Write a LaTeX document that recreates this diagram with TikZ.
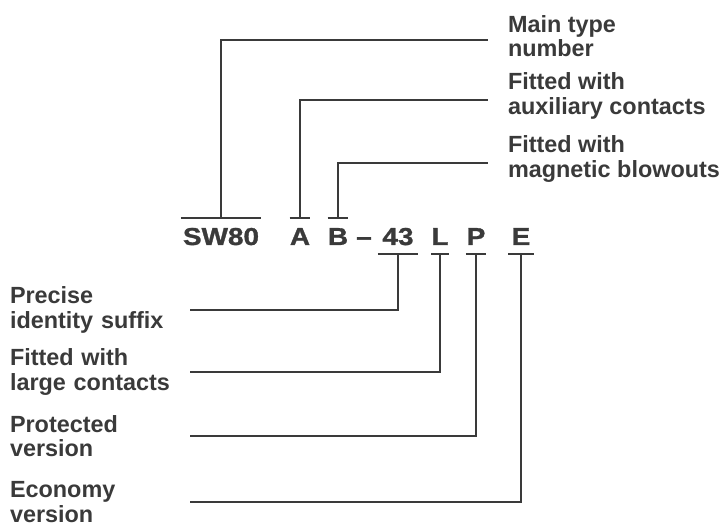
\documentclass[tikz,border=0pt]{standalone}
\usepackage{fontspec}
\setmainfont{Liberation Sans}
\newfontfamily\codefont[Ligatures=TeX, FakeStretch=1.14, BoldFeatures={FakeBold=1.2}]{Liberation Sans}
\definecolor{inkgray}{HTML}{3A3A3A}
\begin{document}
\begin{tikzpicture}[x=1pt, y=-1pt,
    code/.style={font=\codefont\fontsize{24.5}{25}\selectfont\bfseries, text=inkgray, inner sep=0pt, minimum height=36pt, text height=18pt, text depth=0pt},
    rlabel/.style={anchor=west, align=left, inner sep=0pt, outer xsep=20pt, font=\fontsize{23.4}{24.5}\selectfont\bfseries, text=inkgray},
    llabel/.style={anchor=west, align=left, text width=170pt, inner sep=0pt, outer xsep=10pt, font=\fontsize{23.4}{24.5}\selectfont\bfseries, text=inkgray},
    lead/.style={draw=inkgray, line width=1.8pt}]
    \useasboundingbox[fill=white] (0, 0) rectangle (725, 526);

    % Code de type
    \node[code, minimum width=80pt] (code_sw) at (221, 236) {SW80};
    \node[code, minimum width=20pt] (code_a) at (300, 236) {A};
    \node[code, minimum width=20pt] (code_b) at (338, 236) {B};
    \node[code] (code_dash) at (364, 236) {--};
    \node[code, minimum width=40pt] (code_num) at (398, 236) {43};
    \node[code, minimum width=16pt] (code_l) at (440, 236) {L};
    \node[code, minimum width=20pt] (code_p) at (476, 236) {P};
    \node[code, minimum width=25pt] (code_e) at (521, 236) {E};

    % Libellés à droite
    \node[rlabel] (lbl_main) at (488, 36) {Main type\\number};
    \node[rlabel] (lbl_aux) at (488, 96) {Fitted with\\auxiliary contacts};
    \node[rlabel] (lbl_blow) at (488, 159) {Fitted with\\magnetic blowouts};

    % Libellés à gauche
    \node[llabel] (lbl_suffix) at (0, 310) {Precise\\identity suffix};
    \node[llabel] (lbl_large) at (0, 372) {Fitted with\\large contacts};
    \node[llabel] (lbl_prot) at (0, 436) {Protected\\version};
    \node[llabel] (lbl_eco) at (0, 502) {Economy\\version};

    % Barres au-dessus
    \foreach \c in {code_sw, code_a, code_b}
        \draw[lead] (\c.north west) -- (\c.north east);
    % Barres au-dessous
    \foreach \c in {code_num, code_l, code_p, code_e}
        \draw[lead] (\c.south west) -- (\c.south east);

    % Lignes de rappel en haut
    \draw[lead] (code_sw.north) |- ([yshift=-4pt]lbl_main.west);
    \draw[lead] (code_a.north) |- ([yshift=-4pt]lbl_aux.west);
    \draw[lead] (code_b.north) |- ([yshift=-4pt]lbl_blow.west);

    % Lignes de rappel en bas
    \draw[lead] (lbl_suffix.east) -| (code_num.south);
    \draw[lead] (lbl_large.east) -| (code_l.south);
    \draw[lead] (lbl_prot.east) -| (code_p.south);
    \draw[lead] (lbl_eco.east) -| (code_e.south);

\end{tikzpicture}
\end{document}
